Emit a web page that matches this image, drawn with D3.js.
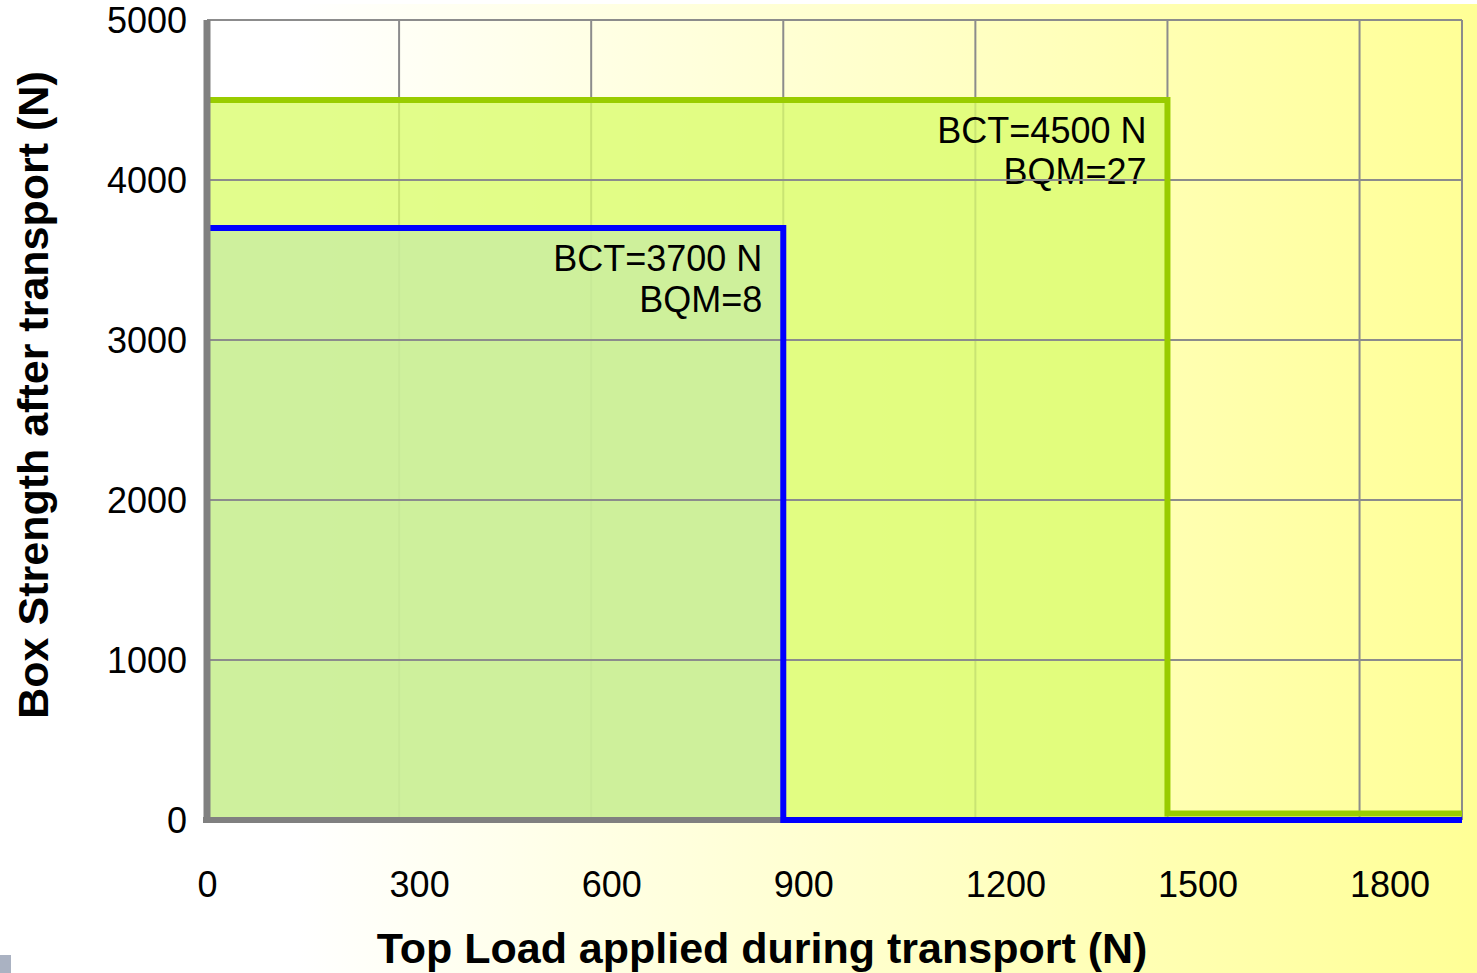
<!DOCTYPE html>
<html>
<head>
<meta charset="utf-8">
<script src="https://cdn.jsdelivr.net/npm/d3@7"></script>
<style>
  body { margin: 0; background: #fff; }
  svg { display: block; font-family: "Liberation Sans", Arial, sans-serif; }
</style>
</head>
<body>
<svg id="chart" width="1477" height="973"></svg>
<script>
// values
const xTicks = [0, 300, 600, 900, 1200, 1500, 1800];
const yTicks = [0, 1000, 2000, 3000, 4000, 5000];
const xMax = 1960;
const yMax = 5000;

// two boxes: BCT level, top load where it fails, residual line level, BQM
const boxNames = ["green", "blue"];
const bctValues = [4500, 3700];
const loadLimits = [1500, 900];
const floorValues = [40, 0];
const bqmValues = [27, 8];

const lineColor = { green: "#99cc00", blue: "#0000ff" };
const fillColor = { green: "#dafd6c", blue: "#c8eca2" };

const svg = d3.select("#chart");
const width = 1477, height = 973;

// background gradient
const defs = svg.append("defs");
const grad = defs.append("linearGradient")
    .attr("id", "bg")
    .attr("x1", "0%").attr("x2", "100%").attr("y1", "0%").attr("y2", "0%");
grad.append("stop").attr("offset", "0.2").attr("stop-color", "#ffffff");
grad.append("stop").attr("offset", "1").attr("stop-color", "#ffff96");

svg.append("rect")
    .attr("x", 0).attr("y", 4)
    .attr("width", width).attr("height", height - 4)
    .attr("fill", "url(#bg)");

// small grey corner piece bottom-left
svg.append("rect")
    .attr("x", 0).attr("y", 955).attr("width", 11).attr("height", 18)
    .attr("fill", "#aab2c2");

const x = d3.scaleLinear().domain([0, xMax]).range([207, 1462]);
const y = d3.scaleLinear().domain([0, yMax]).range([820, 20]);

const gridColor = "#8c8c8c";

// vertical gridlines (sit below the fills)
svg.append("g")
    .selectAll("line")
    .data(xTicks.filter(d => d > 0).concat([xMax]))
  .enter().append("line")
    .attr("x1", d => x(d)).attr("x2", d => x(d))
    .attr("y1", y(yMax)).attr("y2", y(0))
    .attr("stroke", gridColor)
    .attr("stroke-width", 2);

// filled boxes
const boxes = boxNames.map((name, i) => ({
    name: name,
    bct: bctValues[i],
    load: loadLimits[i],
    floor: floorValues[i],
    bqm: bqmValues[i]
}));

const area = d3.area()
    .x(d => x(d[0]))
    .y0(y(0))
    .y1(d => y(d[1]));

svg.append("g")
    .selectAll("path")
    .data(boxes)
  .enter().append("path")
    .attr("d", d => area([[0, d.bct], [d.load, d.bct]]))
    .attr("fill", d => fillColor[d.name])
    .attr("fill-opacity", 0.78);

// annotations
const notes = svg.append("g")
    .attr("font-size", 36)
    .attr("text-anchor", "end")
    .attr("fill", "#000");

boxes.forEach(d => {
    notes.append("text")
        .attr("x", x(d.load) - 21)
        .attr("y", y(d.bct) + 43)
        .text(`BCT=${d.bct} N`);
    notes.append("text")
        .attr("x", x(d.load) - 21)
        .attr("y", y(d.bct) + 84)
        .text(`BQM=${d.bqm}`);
});

// horizontal gridlines (drawn over fills and text)
svg.append("g")
    .selectAll("line")
    .data(yTicks.filter(d => d > 0))
  .enter().append("line")
    .attr("x1", x(0)).attr("x2", x(xMax))
    .attr("y1", d => y(d)).attr("y2", d => y(d))
    .attr("stroke", gridColor)
    .attr("stroke-width", 2);

// bottom axis line
svg.append("line")
    .attr("x1", x(0) - 4).attr("x2", x(xMax))
    .attr("y1", y(0)).attr("y2", y(0))
    .attr("stroke", "#808080")
    .attr("stroke-width", 6);

// box outlines
const line = d3.line()
    .x(d => x(d[0]))
    .y(d => y(d[1]));

svg.append("g")
    .selectAll("path")
    .data(boxes)
  .enter().append("path")
    .attr("d", d => line([[0, d.bct], [d.load, d.bct], [d.load, d.floor], [xMax, d.floor]]))
    .attr("fill", "none")
    .attr("stroke", d => lineColor[d.name])
    .attr("stroke-width", 6)
    .attr("stroke-linejoin", "miter");

// left axis line
svg.append("line")
    .attr("x1", x(0)).attr("x2", x(0))
    .attr("y1", y(yMax)).attr("y2", y(0) + 3)
    .attr("stroke", "#808080")
    .attr("stroke-width", 7);

// tick labels
const xAxis = svg.append("g")
    .attr("transform", `translate(0,${y(0)})`)
    .call(d3.axisBottom(x).tickValues(xTicks).tickSize(0).tickFormat(d3.format("d")));
xAxis.select(".domain").remove();
xAxis.selectAll("text")
    .attr("y", 77)
    .attr("dy", 0)
    .attr("dx", -10)
    .attr("text-anchor", "start")
    .attr("font-size", 36)
    .attr("font-family", "Liberation Sans, Arial, sans-serif")
    .attr("fill", "#000");

const yAxis = svg.append("g")
    .attr("transform", `translate(${x(0)},0)`)
    .call(d3.axisLeft(y).tickValues(yTicks).tickSize(0).tickFormat(d3.format("d")));
yAxis.select(".domain").remove();
yAxis.selectAll("text")
    .attr("x", -20)
    .attr("dy", "0.35em")
    .attr("font-size", 36)
    .attr("font-family", "Liberation Sans, Arial, sans-serif")
    .attr("fill", "#000");

// axis titles
svg.append("text")
    .attr("x", 762)
    .attr("y", 963)
    .attr("text-anchor", "middle")
    .attr("font-size", 43)
    .attr("font-weight", "bold")
    .text("Top Load applied during transport (N)");

svg.append("text")
    .attr("transform", "translate(48,395) rotate(-90)")
    .attr("text-anchor", "middle")
    .attr("font-size", 43)
    .attr("font-weight", "bold")
    .text("Box Strength after transport (N)");
</script>
</body>
</html>
